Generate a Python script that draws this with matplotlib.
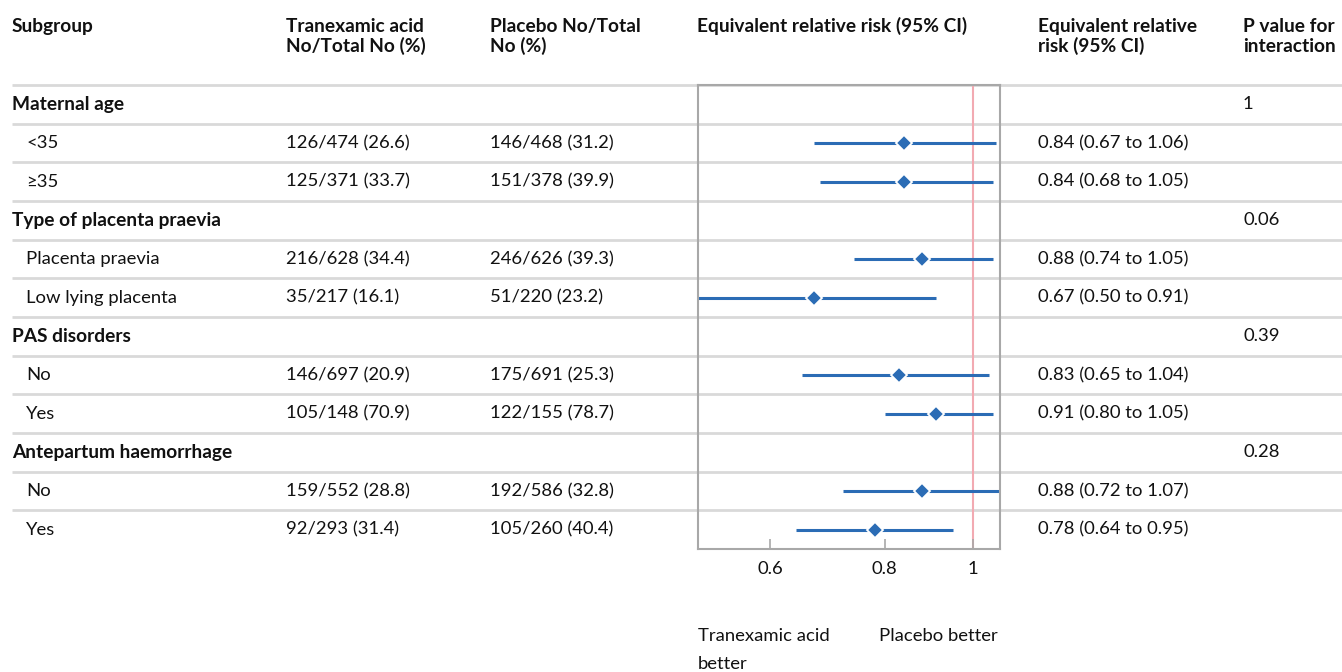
import numpy as np
import matplotlib
matplotlib.use("Agg")
import matplotlib.pyplot as plt

plt.rcParams['font.family'] = ['Lato', 'DejaVu Sans']

# table data
labels = ["Maternal age", "<35", "\u226535", "Type of placenta praevia",
          "Placenta praevia", "Low lying placenta", "PAS disorders", "No", "Yes",
          "Antepartum haemorrhage", "No", "Yes"]
is_group = [True, False, False, True, False, False, True, False, False, True, False, False]
txa_counts = ["", "126/474 (26.6)", "125/371 (33.7)", "", "216/628 (34.4)", "35/217 (16.1)",
              "", "146/697 (20.9)", "105/148 (70.9)", "", "159/552 (28.8)", "92/293 (31.4)"]
pbo_counts = ["", "146/468 (31.2)", "151/378 (39.9)", "", "246/626 (39.3)", "51/220 (23.2)",
              "", "175/691 (25.3)", "122/155 (78.7)", "", "192/586 (32.8)", "105/260 (40.4)"]
rr = [np.nan, 0.84, 0.84, np.nan, 0.88, 0.67, np.nan, 0.83, 0.91, np.nan, 0.88, 0.78]
rr_lo = [np.nan, 0.67, 0.68, np.nan, 0.74, 0.50, np.nan, 0.65, 0.80, np.nan, 0.72, 0.64]
rr_hi = [np.nan, 1.06, 1.05, np.nan, 1.05, 0.91, np.nan, 1.04, 1.05, np.nan, 1.07, 0.95]
p_values = ["1", "", "", "0.06", "", "", "0.39", "", "", "0.28", "", ""]
x_ticks = [0.6, 0.8, 1]
x_ticklabels = ["0.6", "0.8", "1"]

W, H = 1342, 672
FS = 13.3     # regular text
FSB = 13.8    # bold text
BLUE = '#2b6cb5'
GRID = '#d9d9d9'
TXT = '#111111'

fig = plt.figure(figsize=(W / 100, H / 100), dpi=100)
fig.patch.set_facecolor('white')

# background axes in pixel coordinates for the table part
ax0 = fig.add_axes([0, 0, 1, 1])
ax0.set_xlim(0, W)
ax0.set_ylim(H, 0)
ax0.axis('off')

top, bottom = 85, 549
n = len(labels)
row_h = (bottom - top) / n
centers = [top + row_h * (i + 0.5) for i in range(n)]

# separators
for k in range(n):
    ax0.hlines(top + row_h * k, 12, W, color=GRID, lw=2, zorder=1)

# headers
bold = dict(fontsize=FSB, fontweight='bold', color=TXT, va='baseline')
ax0.text(12, 32, "Subgroup", **bold)
ax0.text(286, 32, "Tranexamic acid", **bold)
ax0.text(286, 52, "No/Total No (%)", **bold)
ax0.text(490, 32, "Placebo No/Total", **bold)
ax0.text(490, 52, "No (%)", **bold)
ax0.text(697, 32, "Equivalent relative risk (95% CI)", **bold)
ax0.text(1038, 32, "Equivalent relative", **bold)
ax0.text(1038, 52, "risk (95% CI)", **bold)
ax0.text(1243, 32, "P value for", **bold)
ax0.text(1243, 52, "interaction", **bold)

for i, yc in enumerate(centers):
    if is_group[i]:
        ax0.text(12, yc, labels[i], fontsize=FSB, fontweight='bold', color=TXT, va='center')
    else:
        ax0.text(26, yc, labels[i], fontsize=FS, color=TXT, va='center')
    ax0.text(286, yc, txa_counts[i], fontsize=FS, color=TXT, va='center')
    ax0.text(490, yc, pbo_counts[i], fontsize=FS, color=TXT, va='center')
    if not np.isnan(rr[i]):
        ax0.text(1038, yc, f"{rr[i]:.2f} ({rr_lo[i]:.2f} to {rr_hi[i]:.2f})",
                 fontsize=FS, color=TXT, va='center')
    ax0.text(1243, yc, p_values[i], fontsize=FS, color=TXT, va='center')

# forest plot axes
ax = fig.add_axes([698 / W, (H - bottom) / H, (1000 - 698) / W, (bottom - top) / H])
ax.patch.set_alpha(0)
ax.set_xscale('log')
ax.set_xlim(0.5, 1.07)
ax.set_ylim(n - 0.5, -0.5)

ypos = np.arange(n)
ax.axvline(1, color='#f2aab2', lw=1.5, zorder=1)
for i in range(n):
    if np.isnan(rr[i]):
        continue
    ax.plot([rr_lo[i], rr_hi[i]], [ypos[i], ypos[i]], color=BLUE, lw=2.2,
            solid_capstyle='butt', zorder=2)
    ax.plot(rr[i], ypos[i], marker='D', ms=8.5, color=BLUE, mec='white', mew=1.3,
            zorder=3)

for side in ['top', 'bottom', 'left', 'right']:
    ax.spines[side].set_color('#a8a8a8')
    ax.spines[side].set_linewidth(1.5)
ax.set_yticks([])
ax.set_xticks(x_ticks)
ax.set_xticklabels(x_ticklabels)
ax.minorticks_off()
ax.tick_params(axis='x', which='both', direction='in', length=7, width=1.2,
               color='#a8a8a8', pad=9, labelsize=FS, labelcolor=TXT)
ax.tick_params(axis='x', which='minor', length=0)

# direction labels
ax0.text(698, 641, "Tranexamic acid", fontsize=FS, color=TXT, va='baseline')
ax0.text(698, 669, "better", fontsize=FS, color=TXT, va='baseline')
ax0.text(879, 641, "Placebo better", fontsize=FS, color=TXT, va='baseline')

fig.savefig('out.png', dpi=100)
